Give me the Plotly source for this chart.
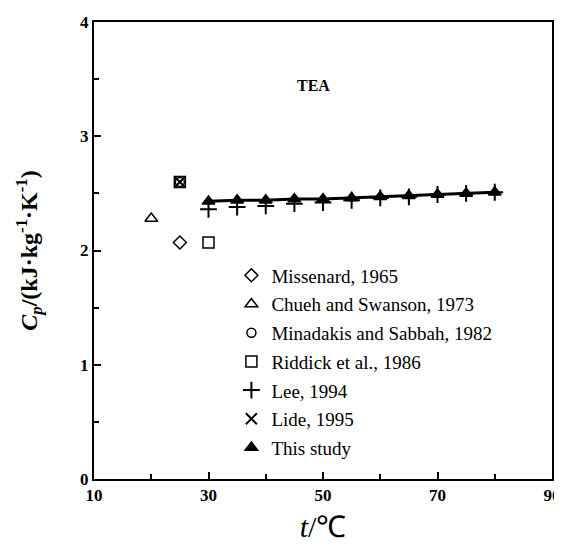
import plotly.graph_objects as go

# ---- data ----
t_this = [30, 35, 40, 45, 50, 55, 60, 65, 70, 75, 80]
cp_this = [2.43, 2.44, 2.44, 2.45, 2.45, 2.46, 2.47, 2.48, 2.49, 2.50, 2.51]
t_lee = [30, 35, 40, 45, 50, 55, 60, 65, 70, 75, 80]
cp_lee = [2.36, 2.38, 2.39, 2.41, 2.42, 2.44, 2.46, 2.47, 2.49, 2.50, 2.51]
t_miss, cp_miss = [25], [2.07]
t_chueh, cp_chueh = [20], [2.28]
t_mina, cp_mina = [25], [2.60]
t_ridd, cp_ridd = [25, 30], [2.60, 2.07]
t_lide, cp_lide = [25], [2.60]

FONT = "Liberation Serif"
fig = go.Figure()

def add(x, y, name, symbol, size=9, lw=1.5, group=None):
    fig.add_trace(go.Scatter(
        x=x, y=y, mode="markers", name=name, legendgroup=group or name,
        marker=dict(symbol=symbol, size=size, color="black",
                    line=dict(color="black", width=lw))))

add(t_miss, cp_miss, "Missenard, 1965", "diamond-open", 10)
add(t_chueh, cp_chueh, "Chueh and Swanson, 1973", "triangle-up-open", 11)
add(t_mina, cp_mina, "Minadakis and Sabbah, 1982", "circle-open", 9)
add(t_ridd, cp_ridd, "Riddick et al., 1986", "square-open", 11)
add(t_lee, cp_lee, "Lee, 1994", "cross-thin-open", 12, 2)
add(t_lide, cp_lide, "Lide, 1995", "x-thin-open", 11, 2)
fig.add_trace(go.Scatter(x=t_this, y=cp_this, mode="lines", showlegend=False,
                         line=dict(color="black", width=3)))
add(t_this, cp_this, "This study", "triangle-up", 11)

fig.add_annotation(x=0.479, y=0.885, xref="paper", yref="paper", text="<b>TEA</b>",
                   showarrow=False, font=dict(family=FONT, size=16, color="black"))

tickfont = dict(family=FONT, size=17, color="black", weight="bold")
axis_common = dict(showline=True, linecolor="black", linewidth=2, mirror=True,
                   ticks="inside", tickcolor="black", tickwidth=2, ticklen=7,
                   showgrid=False, zeroline=False, tickfont=tickfont,
                   ticklabeloverflow="allow")

fig.update_xaxes(range=[10, 90], tick0=10, dtick=20,
                 minor=dict(dtick=10, ticks="inside", ticklen=5, tickcolor="black", tickwidth=2),
                 title=dict(text="<i>t</i>/℃", font=dict(family=FONT, size=30, color="black"), standoff=12),
                 **axis_common)
fig.update_yaxes(range=[0, 4], dtick=1,
                 minor=dict(dtick=0.5, ticks="inside", ticklen=5, tickcolor="black", tickwidth=2),
                 title=dict(text="<b><i>C<sub>p</sub></i>/(kJ·kg<sup>-1</sup>·K<sup>-1</sup>)</b>",
                            font=dict(family=FONT, size=24, color="black"), standoff=36),
                 **axis_common)

# page body has an 8px margin, so the figure is offset on the page
fig.update_layout(
    width=570, height=544,
    margin=dict(l=86, r=26, t=5, b=73),
    plot_bgcolor="white", paper_bgcolor="white",
    font=dict(family=FONT, color="black"),
    showlegend=True,
    legend=dict(x=0.30, y=0.487, xanchor="left", yanchor="top",
                bgcolor="rgba(0,0,0,0)", traceorder="grouped", tracegroupgap=1,
                font=dict(family=FONT, size=19, color="black")),
)

fig.write_html("out.html")
